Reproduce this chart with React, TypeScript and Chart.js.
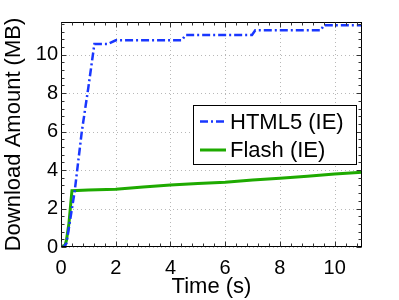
import { useEffect, useRef } from 'react';
import { Chart, registerables } from 'chart.js';

Chart.register(...registerables);

// ---- data ----
const html5Time = [0, 0.1, 0.2, 0.5, 0.76, 1.0, 1.22, 1.7, 2.0, 4.42, 4.55, 6.98, 7.1, 9.5, 9.6, 11];
const html5Mb = [0, 0, 0.2, 2.9, 6.0, 8.3, 10.55, 10.55, 10.75, 10.75, 11.03, 11.03, 11.27, 11.27, 11.53, 11.53];
const flashTime = [0, 0.15, 0.2, 0.29, 0.4, 1, 2, 3, 4, 5, 6, 7, 8, 9, 10, 11];
const flashMb = [0, 0.1, 0.36, 1.23, 2.93, 2.96, 3.0, 3.12, 3.23, 3.3, 3.37, 3.48, 3.58, 3.68, 3.79, 3.89];
const xTicks = [0, 2, 4, 6, 8, 10];
const yTicks = [0, 2, 4, 6, 8, 10];
const seriesNames = ['HTML5 (IE)', 'Flash (IE)'];
const xTitle = 'Time (s)';
const yTitle = 'Download Amount (MB)';
const xMax = 11;
const yMax = 11.7;
const minorStep = 0.4;

const FONT = '"Liberation Sans", Arial, Helvetica, sans-serif';
const BLUE = 'rgb(25,55,255)';
const GREEN = 'rgb(30,170,0)';
const BLUE_DASH = [8, 3, 2, 3];

const framePlugin = {
  id: 'matlabFrame',
  beforeDatasetsDraw(chart: any) {
    const { ctx, chartArea: a, scales } = chart;
    const xs = scales.x, ys = scales.y;
    ctx.save();
    ctx.strokeStyle = '#b8b8b8';
    ctx.lineWidth = 1;
    ctx.setLineDash([1, 3]);
    xTicks.forEach((v) => {
      const px = Math.round(xs.getPixelForValue(v)) + 0.5;
      ctx.beginPath();
      ctx.moveTo(px, a.top);
      ctx.lineTo(px, a.bottom);
      ctx.stroke();
    });
    yTicks.forEach((v) => {
      const py = Math.round(ys.getPixelForValue(v)) + 0.5;
      ctx.beginPath();
      ctx.moveTo(a.left, py);
      ctx.lineTo(a.right, py);
      ctx.stroke();
    });
    ctx.restore();
  },
  afterDatasetsDraw(chart: any) {
    const { ctx, chartArea: a, scales } = chart;
    const xs = scales.x, ys = scales.y;
    ctx.save();
    ctx.setLineDash([]);
    ctx.strokeStyle = '#000';
    ctx.lineWidth = 1;
    const L = Math.round(a.left) + 0.5, R = Math.round(a.right) - 0.5;
    const T = Math.round(a.top) + 0.5, B = Math.round(a.bottom) - 0.5;
    ctx.strokeRect(L, T, R - L, B - T);
    const majX = (v: number) => xTicks.some((t) => Math.abs(t - v) < 1e-6);
    const majY = (v: number) => yTicks.some((t) => Math.abs(t - v) < 1e-6);
    ctx.strokeStyle = '#333';
    for (let v = 0; v <= xMax + 1e-6; v += minorStep) {
      const vv = Math.round(v * 10) / 10;
      const len = majX(vv) ? 5 : 3;
      const px = Math.round(xs.getPixelForValue(vv)) + 0.5;
      ctx.beginPath();
      ctx.moveTo(px, B); ctx.lineTo(px, B - len);
      ctx.moveTo(px, T); ctx.lineTo(px, T + len);
      ctx.stroke();
    }
    for (let v = 0; v <= yMax + 1e-6; v += minorStep) {
      const vv = Math.round(v * 10) / 10;
      const len = majY(vv) ? 5 : 3;
      const py = Math.round(ys.getPixelForValue(vv)) + 0.5;
      ctx.beginPath();
      ctx.moveTo(L, py); ctx.lineTo(L + len, py);
      ctx.moveTo(R, py); ctx.lineTo(R - len, py);
      ctx.stroke();
    }
    ctx.restore();
  },
  afterDraw(chart: any) {
    const { ctx } = chart;
    ctx.save();
    const bx = 193.5, by = 105.5, bw = 163, bh = 59;
    ctx.fillStyle = '#fff';
    ctx.fillRect(bx, by, bw, bh);
    ctx.strokeStyle = '#000';
    ctx.lineWidth = 1;
    ctx.setLineDash([]);
    ctx.strokeRect(bx, by, bw, bh);
    const rows = [
      { y: 121.5, color: BLUE, dash: BLUE_DASH, w: 2.5 },
      { y: 150, color: GREEN, dash: [], w: 3 },
    ];
    rows.forEach((r, i) => {
      ctx.strokeStyle = r.color;
      ctx.lineWidth = r.w;
      ctx.setLineDash(r.dash);
      ctx.beginPath();
      ctx.moveTo(200, r.y);
      ctx.lineTo(226, r.y);
      ctx.stroke();
      ctx.setLineDash([]);
      ctx.fillStyle = '#000';
      ctx.font = `22px ${FONT}`;
      ctx.textBaseline = 'middle';
      ctx.textAlign = 'left';
      ctx.fillText(seriesNames[i], 230, r.y + 1);
    });
    ctx.restore();
  },
};

export default function App() {
  const ref = useRef<HTMLCanvasElement>(null);
  useEffect(() => {
    document.body.style.margin = '0';
    const canvas = ref.current!;
    const chart = new Chart(canvas, {
      type: 'line',
      data: {
        datasets: [
          {
            label: seriesNames[0],
            data: html5Time.map((t, i) => ({ x: t, y: html5Mb[i] })),
            borderColor: BLUE,
            borderWidth: 2.5,
            borderDash: BLUE_DASH,
            pointRadius: 0,
            tension: 0,
            fill: false,
          },
          {
            label: seriesNames[1],
            data: flashTime.map((t, i) => ({ x: t, y: flashMb[i] })),
            borderColor: GREEN,
            borderWidth: 3,
            pointRadius: 0,
            tension: 0,
            fill: false,
          },
        ],
      },
      options: {
        responsive: false,
        devicePixelRatio: 1,
        animation: false,
        layout: { padding: { top: 22, right: 37, left: 0, bottom: 0 } },
        plugins: { legend: { display: false }, tooltip: { enabled: false } },
        scales: {
          x: {
            type: 'linear',
            min: 0,
            max: xMax,
            grid: { display: false, drawTicks: false },
            border: { display: false },
            afterBuildTicks: (s: any) => { s.ticks = xTicks.map((v) => ({ value: v })); },
            afterFit: (s: any) => { s.height = 53; },
            ticks: { color: '#000', font: { family: FONT, size: 20 }, padding: 9, maxRotation: 0, autoSkip: false },
            title: { display: true, text: xTitle, color: '#000', font: { family: FONT, size: 22 }, padding: 0 },
          },
          y: {
            type: 'linear',
            min: 0,
            max: yMax,
            grid: { display: false, drawTicks: false },
            border: { display: false },
            afterBuildTicks: (s: any) => { s.ticks = yTicks.map((v) => ({ value: v })); },
            afterFit: (s: any) => { s.width = 61; },
            ticks: { color: '#000', font: { family: FONT, size: 20 }, padding: 3, autoSkip: false },
            title: { display: true, text: yTitle, color: '#000', font: { family: FONT, size: 22 }, padding: 1 },
          },
        },
      },
      plugins: [framePlugin],
    } as any);
    return () => chart.destroy();
  }, []);
  return <canvas ref={ref} width={399} height={300} style={{ display: 'block', width: 399, height: 300 }} />;
}
